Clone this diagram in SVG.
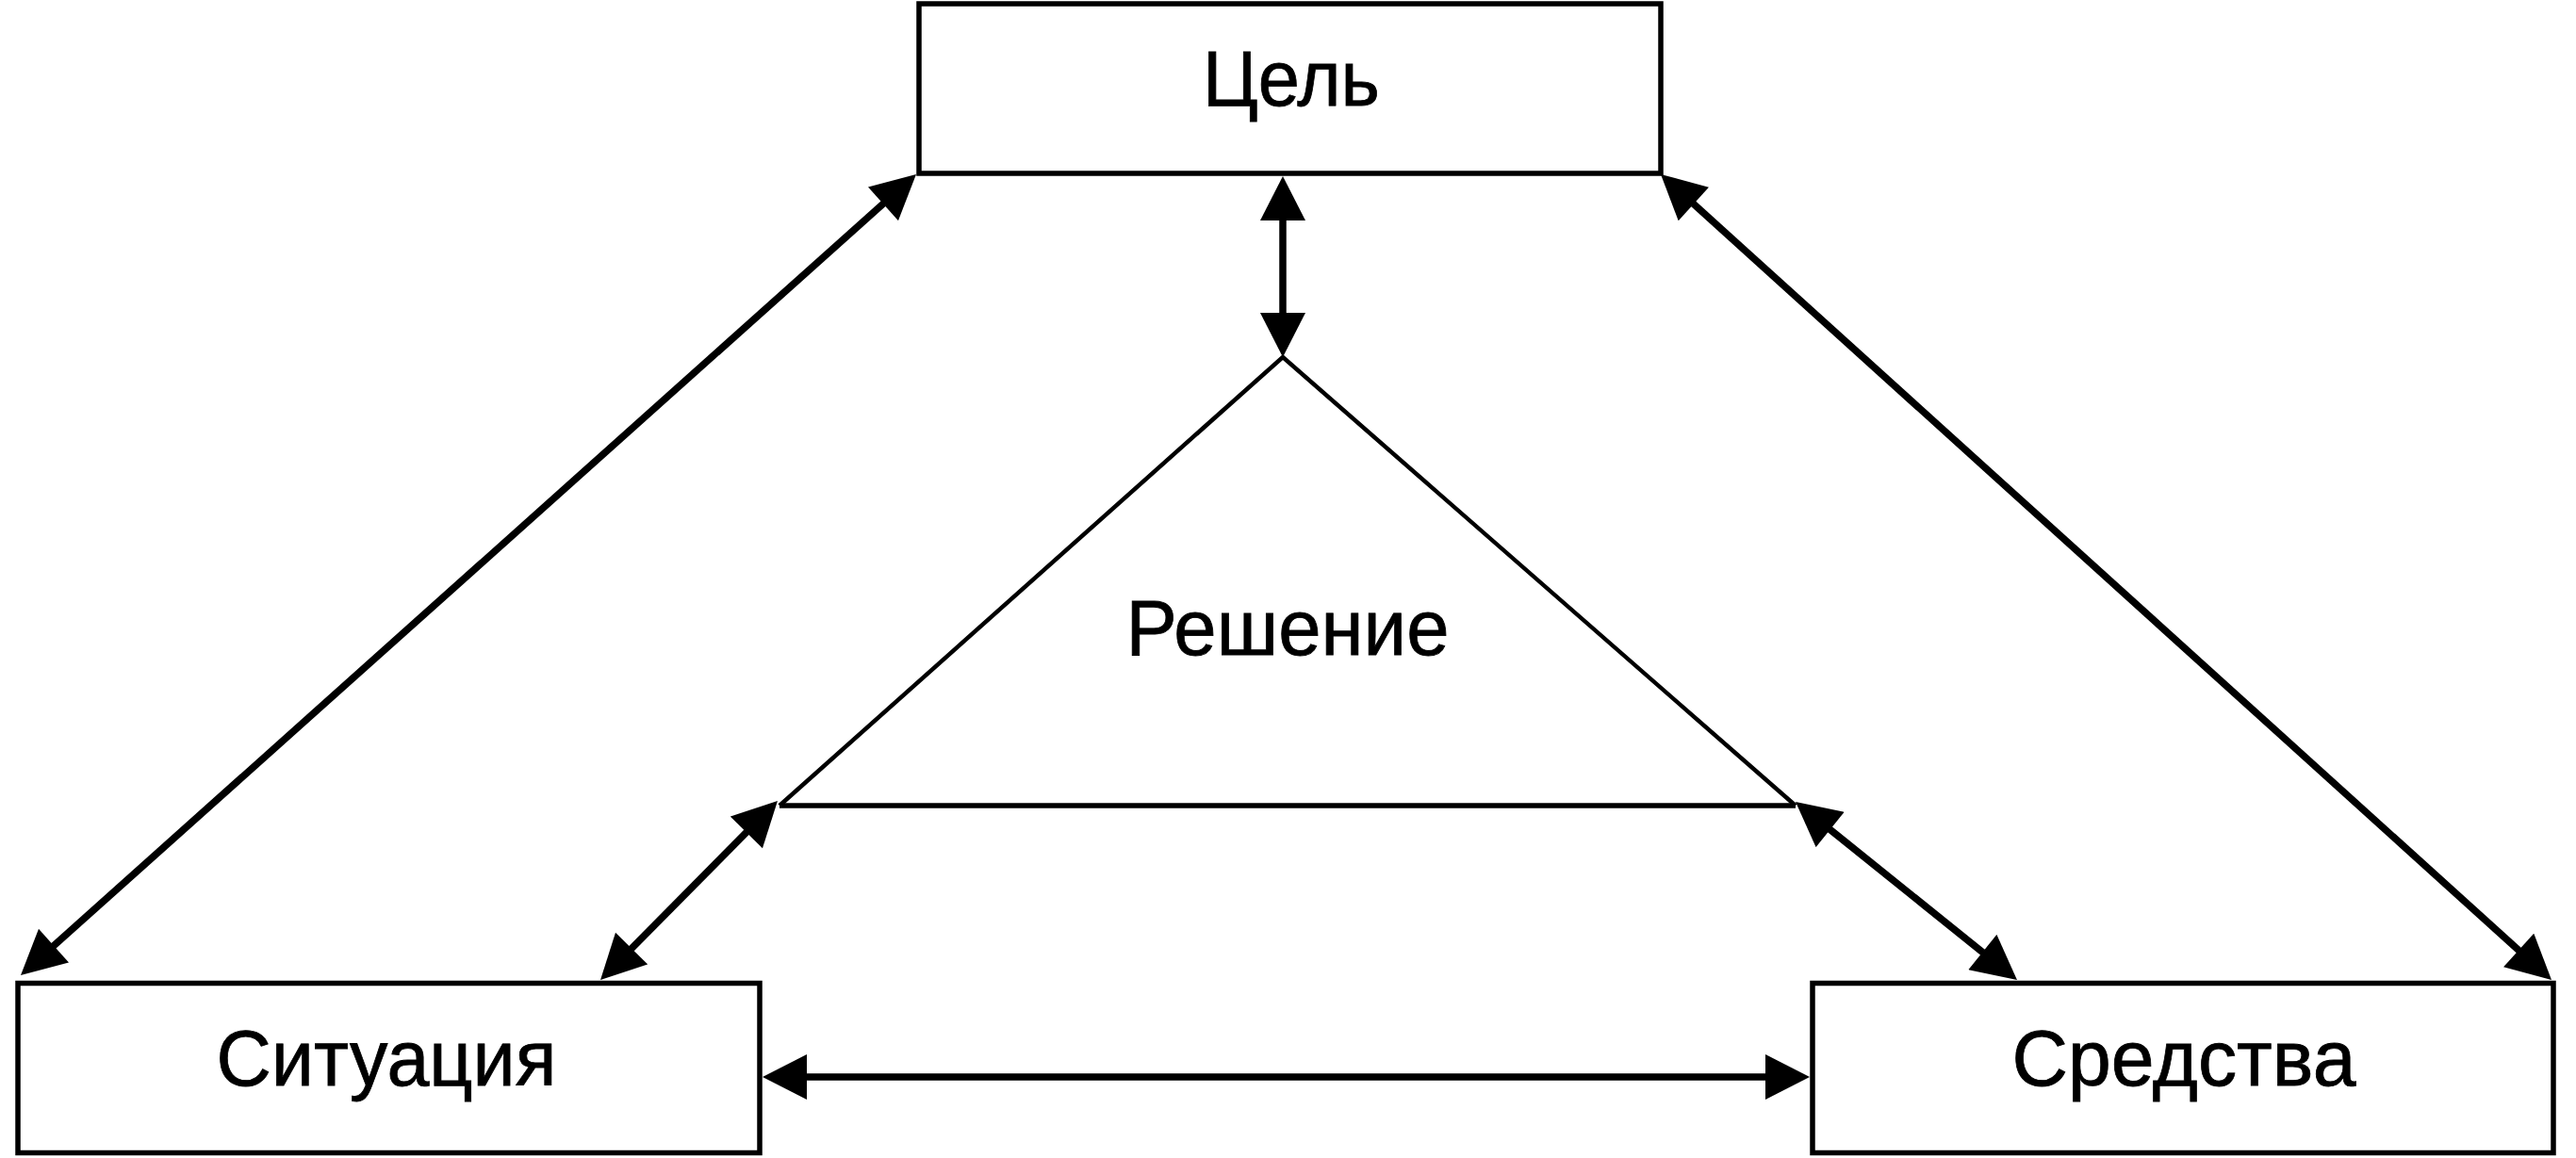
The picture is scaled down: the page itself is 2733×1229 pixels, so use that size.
<svg xmlns="http://www.w3.org/2000/svg" width="2733" height="1229" viewBox="0 0 2733 1229">
<style>
.box{fill:#fff;stroke:#000;stroke-width:5.5}
.lbl{font-family:"Liberation Sans",Arial,sans-serif;font-size:84px;fill:#000;stroke:#000;stroke-width:0.8;text-anchor:middle}
.con{fill:none;stroke:#000;stroke-width:7.5;marker-start:url(#ah);marker-end:url(#ah)}
.tri{fill:none;stroke:#000;stroke-width:4.5;stroke-linejoin:miter}
.base{fill:none;stroke:#000;stroke-width:5.5}
</style>
<defs>
<marker id="ah" markerUnits="userSpaceOnUse" markerWidth="48" markerHeight="48" viewBox="0 0 47 48" refX="27" refY="24" orient="auto-start-reverse">
<path d="M0,0 L47,24 L0,48 Z" fill="#000"/>
</marker>
</defs>
<rect width="2733" height="1229" fill="#fff"/>
<g id="reshenie">
<polyline class="tri" points="827,855 1361,379 1905,855"/>
<line class="base" x1="827" y1="855" x2="1905" y2="855"/>
<text class="lbl" x="1366" y="695" textLength="343" lengthAdjust="spacingAndGlyphs">Решение</text>
</g>
<g id="tsel">
<rect class="box" x="975" y="4" width="787" height="180"/>
<text class="lbl" x="1370" y="112" textLength="188" lengthAdjust="spacingAndGlyphs">Цель</text>
</g>
<g id="situatsiya">
<rect class="box" x="19" y="1043.5" width="787" height="180"/>
<text class="lbl" x="410" y="1152" textLength="361" lengthAdjust="spacingAndGlyphs">Ситуация</text>
</g>
<g id="sredstva">
<rect class="box" x="1923" y="1043.5" width="786" height="180"/>
<text class="lbl" x="2317" y="1152" textLength="365" lengthAdjust="spacingAndGlyphs">Средства</text>
</g>
<g id="connectors">
<line class="con" x1="1361" y1="207" x2="1361" y2="359"/>
<line class="con" x1="957.1" y1="198.3" x2="36.9" y2="1021.7"/>
<line class="con" x1="1776.8" y1="198.4" x2="2692.2" y2="1026.6"/>
<line class="con" x1="810.9" y1="864.2" x2="651.1" y2="1025.8"/>
<line class="con" x1="1920.6" y1="863.5" x2="2124.4" y2="1027.5"/>
<line class="con" x1="829" y1="1143" x2="1900" y2="1143"/>
</g>
</svg>
